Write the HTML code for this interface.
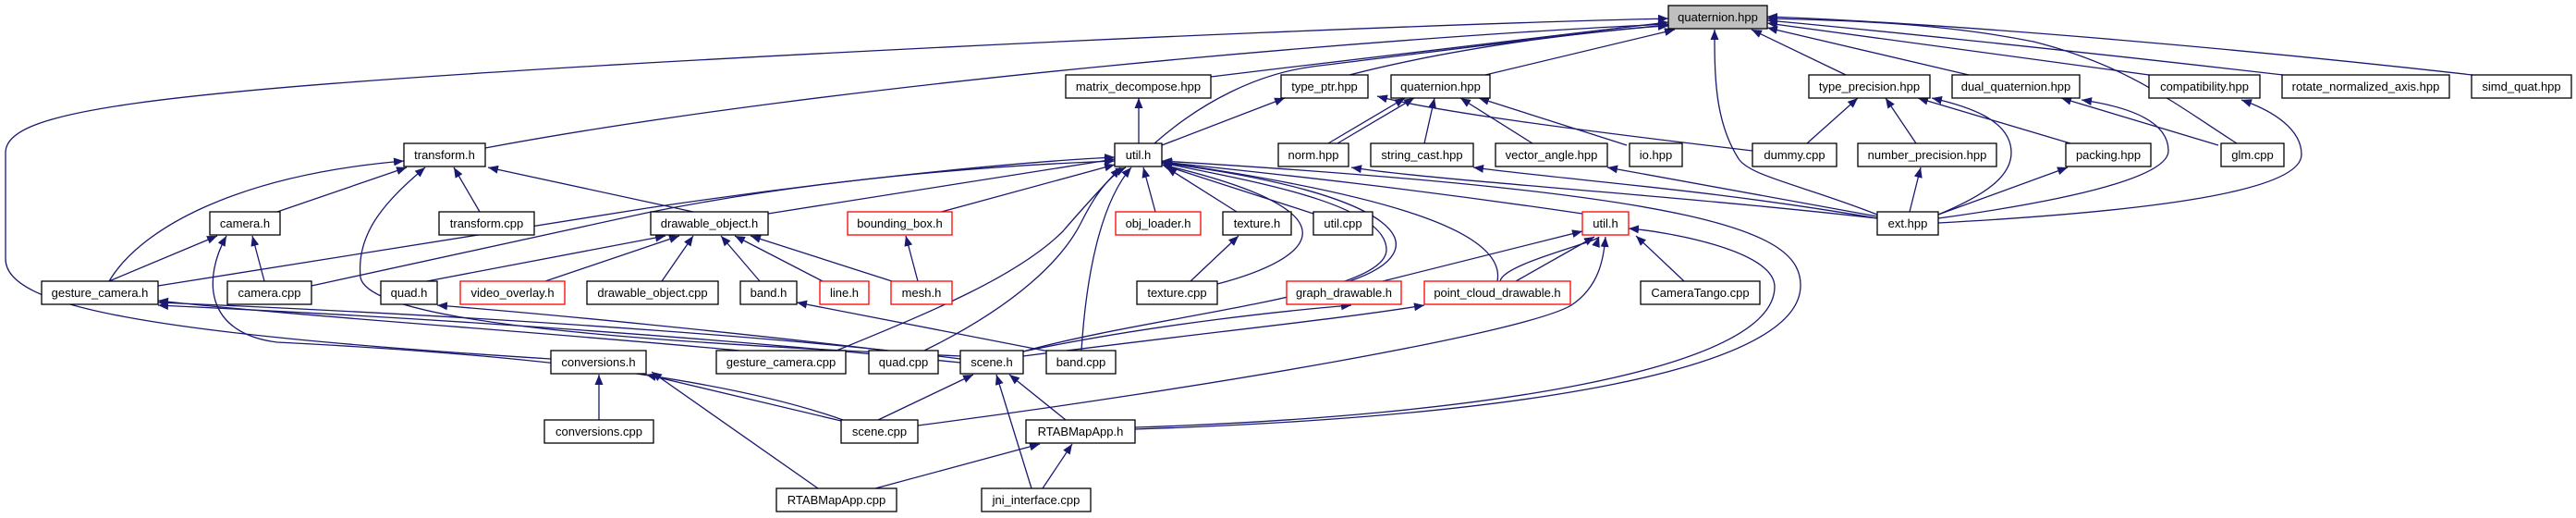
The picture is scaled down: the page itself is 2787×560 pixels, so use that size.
<!DOCTYPE html>
<html><head><meta charset="utf-8"><style>
html,body{margin:0;padding:0;background:#fff;}
svg{display:block;}
text{font-family:"Liberation Sans",Arial,sans-serif;font-size:13px;fill:#000;}
.e{fill:none;stroke:#191970;stroke-width:1.3;marker-end:url(#a);}
.n{fill:#fff;stroke:#000;stroke-width:1.3;}
.r{fill:#fff;stroke:#ff0000;stroke-width:1.3;}
.g{fill:#bfbfbf;stroke:#000;stroke-width:1.3;}
</style></head><body>
<svg width="2787" height="560" viewBox="0 0 2787 560" xmlns="http://www.w3.org/2000/svg">
<defs><marker id="a" markerUnits="userSpaceOnUse" markerWidth="12" markerHeight="10" refX="11" refY="4.5" orient="auto"><path d="M0,0 L11,4.5 L0,9 z" fill="#191970"/></marker></defs>
<g>
<!-- to main quaternion -->
<path class="e" d="M525,160 C900,90 1500,40 1805,26"/>
<path class="e" d="M596,388 C150,360 6,330 6,280 L6,165 C6,120 150,100 700,68 C1200,40 1600,25 1805,20"/>
<path class="e" d="M1310,83 C1500,60 1700,35 1805,24"/>
<path class="e" d="M1249,155 C1300,110 1360,80 1420,72 C1600,50 1750,30 1805,28"/>
<path class="e" d="M1460,81 C1600,45 1750,32 1805,27"/>
<path class="e" d="M1607,81 L1812,32"/>
<path class="e" d="M1997,81 L1895,32"/>
<path class="e" d="M2130,81 L1912,30"/>
<path class="e" d="M2325,81 L1912,25"/>
<path class="e" d="M2470,81 C2200,50 2000,30 1912,22"/>
<path class="e" d="M2675,81 C2400,50 2100,25 1912,18"/>
<path class="e" d="M2031,232 C1950,200 1890,190 1880,170 C1855,130 1855,80 1855,32"/>
<path class="e" d="M2420,155 C2350,110 2300,70 2200,45 C2100,25 2000,22 1912,20"/>
<!-- util.h parents -->
<path class="e" d="M1232,155 L1232,106"/>
<path class="e" d="M1257,157 L1390,106"/>
<!-- glm / ext / precision -->
<path class="e" d="M2400,157 L2230,106"/>
<path class="e" d="M2097,241 C2300,230 2490,210 2490,167 C2490,140 2460,120 2425,108"/>
<path class="e" d="M2097,236 C2250,215 2346,190 2346,163 C2346,130 2300,115 2252,108"/>
<path class="e" d="M2097,232 C2150,210 2176,190 2176,165 C2176,130 2130,115 2090,106"/>
<path class="e" d="M2097,232 L2237,181"/>
<path class="e" d="M2240,155 L2075,106"/>
<path class="e" d="M2073,155 L2040,106"/>
<path class="e" d="M2066,229 L2078,181"/>
<path class="e" d="M1955,155 L2010,106"/>
<path class="e" d="M1896,163 C1700,140 1550,120 1490,104"/>
<!-- quaternion2 children -->
<path class="e" d="M1437,155 L1520,106"/>
<path class="e" d="M1447,155 L1530,106"/>
<path class="e" d="M1541,155 L1552,106"/>
<path class="e" d="M1658,155 L1580,106"/>
<path class="e" d="M1760,157 L1600,106"/>
<path class="e" d="M2031,236 C1800,210 1550,195 1462,181"/>
<path class="e" d="M2031,236 C1850,205 1700,195 1594,181"/>
<path class="e" d="M2031,234 L1739,181"/>
<!-- util.h children -->
<path class="e" d="M831,231 L1206,172"/>
<path class="e" d="M171,309 L700,225 C900,195 1100,175 1206,170"/>
<path class="e" d="M337,309 L700,230 C900,190 1100,178 1206,174"/>
<path class="e" d="M1015,230 L1206,178"/>
<path class="e" d="M1250,229 L1237,181"/>
<path class="e" d="M1338,229 L1262,181"/>
<path class="e" d="M1421,231 L1257,178"/>
<path class="e" d="M1712,231 C1500,200 1350,185 1257,175"/>
<path class="e" d="M905,379 C1000,340 1100,300 1150,250 C1180,215 1200,195 1212,181"/>
<path class="e" d="M1000,379 C1100,330 1150,280 1170,240 C1185,210 1200,190 1218,181"/>
<path class="e" d="M1170,379 C1175,300 1190,220 1224,181"/>
<path class="e" d="M1317,307 C1420,280 1480,230 1257,178"/>
<path class="e" d="M1107,380 C1250,340 1500,320 1500,270 C1500,220 1350,195 1257,176"/>
<path class="e" d="M1460,304 C1560,270 1520,210 1257,176"/>
<path class="e" d="M1620,304 C1630,250 1500,210 1257,175"/>
<path class="e" d="M1228,464 C1650,450 1945,400 1948,310 C1950,250 1850,210 1257,174"/>
<path class="e" d="M1228,462 C1600,450 1920,400 1920,310 C1920,270 1800,250 1762,247"/>
<path class="e" d="M993,460 C1300,420 1650,360 1700,330 C1730,310 1735,280 1737,256"/>
<!-- util.h red children -->
<path class="e" d="M1496,304 L1712,250"/>
<path class="e" d="M1623,304 C1626,285 1728,262 1730,256"/>
<path class="e" d="M1640,304 L1725,256"/>
<path class="e" d="M1822,304 L1770,255"/>
<!-- scene.h -->
<path class="e" d="M1107,385 C1300,360 1450,345 1541,330"/>
<path class="e" d="M1107,380 C1250,350 1400,335 1462,330"/>
<path class="e" d="M1039,388 C900,370 600,345 171,327"/>
<path class="e" d="M1039,392 C900,378 600,350 171,330"/>
<path class="e" d="M800,379 C600,360 300,340 171,325"/>
<path class="e" d="M960,379 C800,360 600,340 473,330"/>
<path class="e" d="M1135,380 L862,327"/>
<path class="e" d="M950,454 L1053,405"/>
<path class="e" d="M1153,454 L1092,405"/>
<path class="e" d="M1116,528 L1078,405"/>
<path class="e" d="M947,528 L1125,480"/>
<path class="e" d="M1128,528 L1160,480"/>
<path class="e" d="M648,454 L648,405"/>
<path class="e" d="M910,455 L699,405"/>
<path class="e" d="M885,528 L705,402"/>
<path class="e" d="M912,454 C760,400 500,380 300,370 C220,360 220,300 245,255"/>
<!-- camera.h / transform.h -->
<path class="e" d="M118,304 L235,255"/>
<path class="e" d="M286,304 L273,255"/>
<path class="e" d="M300,229 L440,181"/>
<path class="e" d="M519,229 L491,181"/>
<path class="e" d="M750,229 L528,181"/>
<path class="e" d="M118,304 C150,250 250,190 437,174"/>
<path class="e" d="M1040,385 C700,370 400,350 390,300 C385,250 420,215 460,181"/>
<!-- drawable_object.h children -->
<path class="e" d="M462,304 L720,255"/>
<path class="e" d="M590,304 L735,255"/>
<path class="e" d="M716,304 L750,255"/>
<path class="e" d="M822,304 L780,255"/>
<path class="e" d="M890,304 L795,255"/>
<path class="e" d="M965,304 L812,255"/>
<path class="e" d="M993,304 L980,255"/>
<path class="e" d="M1288,304 L1340,255"/>
</g>
<g>
<rect class="g" x="1805" y="6" width="107" height="25"/><text x="1858.5" y="23" text-anchor="middle">quaternion.hpp</text>
<rect class="n" x="1153" y="81" width="157" height="25"/><text x="1231.5" y="98" text-anchor="middle">matrix_decompose.hpp</text>
<rect class="n" x="1386" y="81" width="94" height="25"/><text x="1433" y="98" text-anchor="middle">type_ptr.hpp</text>
<rect class="n" x="1505" y="81" width="107" height="25"/><text x="1558.5" y="98" text-anchor="middle">quaternion.hpp</text>
<rect class="n" x="1957" y="81" width="131" height="25"/><text x="2022.5" y="98" text-anchor="middle">type_precision.hpp</text>
<rect class="n" x="2112" y="81" width="138" height="25"/><text x="2181" y="98" text-anchor="middle">dual_quaternion.hpp</text>
<rect class="n" x="2325" y="81" width="120" height="25"/><text x="2385" y="98" text-anchor="middle">compatibility.hpp</text>
<rect class="n" x="2469" y="81" width="181" height="25"/><text x="2559.5" y="98" text-anchor="middle">rotate_normalized_axis.hpp</text>
<rect class="n" x="2674" y="81" width="108" height="25"/><text x="2728" y="98" text-anchor="middle">simd_quat.hpp</text>
<rect class="n" x="437" y="155" width="88" height="25"/><text x="481" y="172" text-anchor="middle">transform.h</text>
<rect class="n" x="1206" y="155" width="51" height="25"/><text x="1231.5" y="172" text-anchor="middle">util.h</text>
<rect class="n" x="1383" y="155" width="76" height="25"/><text x="1421" y="172" text-anchor="middle">norm.hpp</text>
<rect class="n" x="1483" y="155" width="111" height="25"/><text x="1538.5" y="172" text-anchor="middle">string_cast.hpp</text>
<rect class="n" x="1618" y="155" width="121" height="25"/><text x="1678.5" y="172" text-anchor="middle">vector_angle.hpp</text>
<rect class="n" x="1763" y="155" width="57" height="25"/><text x="1791.5" y="172" text-anchor="middle">io.hpp</text>
<rect class="n" x="1896" y="155" width="91" height="25"/><text x="1941.5" y="172" text-anchor="middle">dummy.cpp</text>
<rect class="n" x="2010" y="155" width="150" height="25"/><text x="2085" y="172" text-anchor="middle">number_precision.hpp</text>
<rect class="n" x="2235" y="155" width="92" height="25"/><text x="2281" y="172" text-anchor="middle">packing.hpp</text>
<rect class="n" x="2403" y="155" width="68" height="25"/><text x="2437" y="172" text-anchor="middle">glm.cpp</text>
<rect class="n" x="227" y="229" width="76" height="25"/><text x="265" y="246" text-anchor="middle">camera.h</text>
<rect class="n" x="475" y="229" width="103" height="25"/><text x="526.5" y="246" text-anchor="middle">transform.cpp</text>
<rect class="n" x="704" y="229" width="127" height="25"/><text x="767.5" y="246" text-anchor="middle">drawable_object.h</text>
<rect class="r" x="917" y="229" width="113" height="25"/><text x="973.5" y="246" text-anchor="middle">bounding_box.h</text>
<rect class="r" x="1207" y="229" width="92" height="25"/><text x="1253" y="246" text-anchor="middle">obj_loader.h</text>
<rect class="n" x="1323" y="229" width="74" height="25"/><text x="1360" y="246" text-anchor="middle">texture.h</text>
<rect class="n" x="1421" y="229" width="64" height="25"/><text x="1453" y="246" text-anchor="middle">util.cpp</text>
<rect class="r" x="1712" y="229" width="50" height="25"/><text x="1737" y="246" text-anchor="middle">util.h</text>
<rect class="n" x="2031" y="229" width="66" height="25"/><text x="2064" y="246" text-anchor="middle">ext.hpp</text>
<rect class="n" x="45" y="304" width="126" height="25"/><text x="108" y="321" text-anchor="middle">gesture_camera.h</text>
<rect class="n" x="246" y="304" width="91" height="25"/><text x="291.5" y="321" text-anchor="middle">camera.cpp</text>
<rect class="n" x="412" y="304" width="61" height="25"/><text x="442.5" y="321" text-anchor="middle">quad.h</text>
<rect class="r" x="498" y="304" width="113" height="25"/><text x="554.5" y="321" text-anchor="middle">video_overlay.h</text>
<rect class="n" x="635" y="304" width="142" height="25"/><text x="706" y="321" text-anchor="middle">drawable_object.cpp</text>
<rect class="n" x="801" y="304" width="61" height="25"/><text x="831.5" y="321" text-anchor="middle">band.h</text>
<rect class="r" x="887" y="304" width="53" height="25"/><text x="913.5" y="321" text-anchor="middle">line.h</text>
<rect class="r" x="964" y="304" width="66" height="25"/><text x="997" y="321" text-anchor="middle">mesh.h</text>
<rect class="n" x="1230" y="304" width="87" height="25"/><text x="1273.5" y="321" text-anchor="middle">texture.cpp</text>
<rect class="r" x="1392" y="304" width="124" height="25"/><text x="1454" y="321" text-anchor="middle">graph_drawable.h</text>
<rect class="r" x="1541" y="304" width="158" height="25"/><text x="1620" y="321" text-anchor="middle">point_cloud_drawable.h</text>
<rect class="n" x="1775" y="304" width="129" height="25"/><text x="1839.5" y="321" text-anchor="middle">CameraTango.cpp</text>
<rect class="n" x="596" y="379" width="103" height="25"/><text x="647.5" y="396" text-anchor="middle">conversions.h</text>
<rect class="n" x="775" y="379" width="140" height="25"/><text x="845" y="396" text-anchor="middle">gesture_camera.cpp</text>
<rect class="n" x="940" y="379" width="75" height="25"/><text x="977.5" y="396" text-anchor="middle">quad.cpp</text>
<rect class="n" x="1039" y="379" width="68" height="25"/><text x="1073" y="396" text-anchor="middle">scene.h</text>
<rect class="n" x="1132" y="379" width="75" height="25"/><text x="1169.5" y="396" text-anchor="middle">band.cpp</text>
<rect class="n" x="589" y="454" width="118" height="25"/><text x="648" y="471" text-anchor="middle">conversions.cpp</text>
<rect class="n" x="910" y="454" width="83" height="25"/><text x="951.5" y="471" text-anchor="middle">scene.cpp</text>
<rect class="n" x="1110" y="454" width="118" height="25"/><text x="1169" y="471" text-anchor="middle">RTABMapApp.h</text>
<rect class="n" x="840" y="528" width="130" height="25"/><text x="905" y="545" text-anchor="middle">RTABMapApp.cpp</text>
<rect class="n" x="1062" y="528" width="118" height="25"/><text x="1121" y="545" text-anchor="middle">jni_interface.cpp</text>
</g>
</svg>
</body></html>
